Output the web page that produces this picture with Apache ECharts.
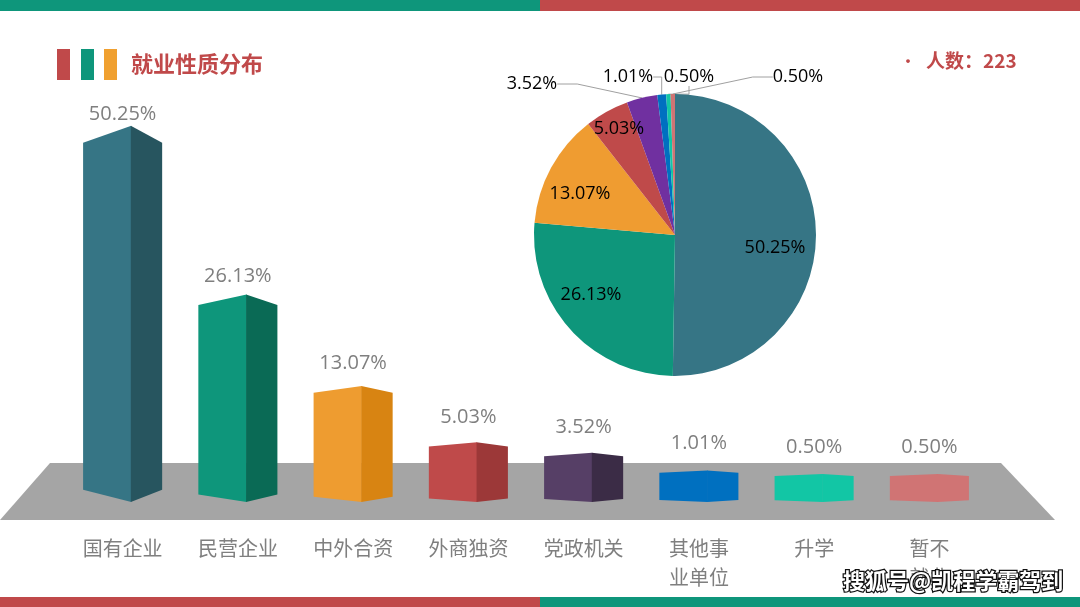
<!DOCTYPE html>
<html>
<head>
<meta charset="utf-8">
<script src="https://cdn.jsdelivr.net/npm/echarts@6/dist/echarts.min.js"></script>
<style>
html,body{margin:0;padding:0;background:#fff;}
#chart{width:1080px;height:607px;}
</style>
</head>
<body>
<div id="chart"></div>
<script>
// ---- data ----
const title = '就业性质分布';
const totalCount = 223;
const categories = ['国有企业', '民营企业', '中外合资', '外商独资', '党政机关', '其他事\n业单位', '升学', '暂不\n就业'];
const shares = [50.25, 26.13, 13.07, 5.03, 3.52, 1.01, 0.50, 0.50];

// ---- styles ----
const pieColors = ['#367585', '#0E967B', '#EF9C31', '#BF4A4A', '#7030A0', '#0070C0', '#12C6A5', '#D07474'];
const barFaceColors = [
  ['#367585', '#27555F'],
  ['#0E967B', '#0A6A55'],
  ['#EE9C30', '#D88412'],
  ['#BF4A4A', '#9C3838'],
  ['#563F66', '#3B2C46'],
  ['#0070C0', '#0070C0'],
  ['#12C6A5', '#12C6A5'],
  ['#D07474', '#D07474']
];
// pie label anchor positions (label centres, px)
const pieLabelPos = [[775, 248], [591, 295], [580, 194], [619, 129], [532, 84], [628, 77], [689, 77], [798, 77]];
const pieLabelOutside = [false, false, false, false, true, true, true, true];

const AXIS_MIN = -3.5;
const NUM_FONT = "'Open Sans', 'Noto Sans CJK SC', sans-serif";
const CJK_FONT = "'Noto Sans CJK SC', 'Noto Sans', sans-serif";

const chart = echarts.init(document.getElementById('chart'));

const option = {
  animation: false,
  backgroundColor: '#ffffff',
  grid: { left: 65, right: 93, top: 57.5, bottom: 105 },
  xAxis: {
    type: 'category',
    data: categories,
    axisLine: { show: false },
    axisTick: { show: false },
    axisLabel: {
      interval: 0,
      margin: 32,
      color: '#7F7F7F',
      fontSize: 20,
      lineHeight: 29,
      fontFamily: CJK_FONT,
      verticalAlign: 'top'
    }
  },
  yAxis: {
    type: 'value',
    min: AXIS_MIN,
    max: 60,
    show: false,
    splitLine: { show: false }
  },
  graphic: [
    // top strips
    { type: 'rect', z: 0, shape: { x: 0, y: 0, width: 540, height: 11 }, style: { fill: '#0E967B' } },
    { type: 'rect', z: 0, shape: { x: 540, y: 0, width: 540, height: 11 }, style: { fill: '#C0494A' } },
    // bottom strips
    { type: 'rect', z: 0, shape: { x: 0, y: 597, width: 540, height: 10 }, style: { fill: '#C0494A' } },
    { type: 'rect', z: 0, shape: { x: 540, y: 597, width: 540, height: 10 }, style: { fill: '#0E967B' } },
    // title marks
    { type: 'rect', z: 0, shape: { x: 57, y: 49, width: 13, height: 31 }, style: { fill: '#C0494A' } },
    { type: 'rect', z: 0, shape: { x: 81, y: 49, width: 13, height: 31 }, style: { fill: '#0E967B' } },
    { type: 'rect', z: 0, shape: { x: 104, y: 49, width: 13, height: 31 }, style: { fill: '#F0A030' } },
    { type: 'text', z: 5, x: 131, y: 64, style: { text: title, fill: '#C0494A', font: "bold 22px 'Noto Sans CJK SC', sans-serif", verticalAlign: 'middle' } },
    // count
    { type: 'text', z: 5, x: 899, y: 61, style: { text: '•', fill: '#C0494A', font: "18px 'Noto Sans CJK SC', sans-serif", verticalAlign: 'middle' } },
    { type: 'text', z: 5, x: 926, y: 61, style: { text: '人数：' + totalCount, fill: '#C0494A', font: "bold 19px 'Noto Sans CJK SC', sans-serif", verticalAlign: 'middle' } },
    // floor
    { type: 'polygon', z: 0, shape: { points: [[50, 463], [1001, 463], [1055, 520], [0, 520]] }, style: { fill: '#A5A5A5' } },
    // watermark
    { type: 'text', z: 100, x: 843, y: 581, style: { text: '搜狐号@凯程学霸驾到', fill: '#ffffff', stroke: '#111111', lineWidth: 2.5, font: "bold 22px 'Noto Sans CJK SC', sans-serif", verticalAlign: 'middle' } }
  ],
  series: [
    {
      type: 'custom',
      z: 3,
      data: shares.map((v, i) => [i, v]),
      renderItem: function (params, api) {
        const i = params.dataIndex;
        const v = api.value(1);
        const top = api.coord([api.value(0), v]);
        const base = api.coord([api.value(0), AXIS_MIN]);
        const bw = api.size([1, 0])[0] * 0.686;
        const cx = top[0];
        const xl = cx - bw / 2, xr = cx + bw / 2, xm = xl + bw * 0.61;
        const yt = top[1], yb = base[1];
        const h = yb - yt;
        const tOff = Math.min(2 + 0.04 * h, 0.07 * h);
        const bOff = Math.min(2 + 0.027 * h, 0.06 * h);
        const c = barFaceColors[i];
        return {
          type: 'group',
          children: [
            { type: 'polygon', shape: { points: [[xl, yt + tOff], [xm, yt], [xm, yb], [xl, yb - bOff]] }, style: { fill: c[0] } },
            { type: 'polygon', shape: { points: [[xm - 0.5, yt], [xr, yt + tOff], [xr, yb - bOff], [xm - 0.5, yb]] }, style: { fill: c[1] } },
            { type: 'text', x: cx, y: yt + tOff - 29, style: { text: v.toFixed(2) + '%', fill: '#7F7F7F', font: '20px ' + NUM_FONT, align: 'center', verticalAlign: 'middle' } }
          ]
        };
      }
    },
    {
      type: 'pie',
      z: 4,
      center: [675, 235],
      radius: [0, 141],
      startAngle: 90,
      clockwise: true,
      avoidLabelOverlap: false,
      data: shares.map((v, i) => ({
        name: categories[i],
        value: v,
        itemStyle: { color: pieColors[i] },
        label: { position: pieLabelOutside[i] ? 'outside' : 'inside' },
        labelLine: { show: pieLabelOutside[i] }
      })),
      label: {
        show: true,
        formatter: p => p.value.toFixed(2) + '%',
        color: '#000000',
        fontSize: 18,
        fontFamily: NUM_FONT
      },
      labelLine: {
        length: 8,
        length2: 20,
        lineStyle: { color: '#A0A0A0', width: 1 }
      },
      labelLayout: function (p) {
        const pos = pieLabelPos[p.dataIndex];
        return { x: pos[0], y: pos[1], align: 'center', verticalAlign: 'middle' };
      }
    }
  ]
};
chart.setOption(option);
</script>
</body>
</html>
